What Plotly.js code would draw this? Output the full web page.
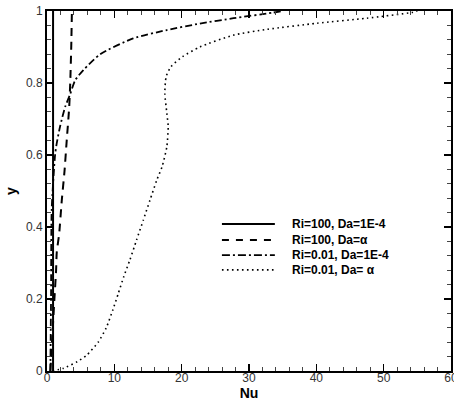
<!DOCTYPE html>
<html>
<head>
<meta charset="utf-8">
<script src="https://cdn.plot.ly/plotly-3.0.1.min.js"></script>
<style>html,body{margin:0;padding:0;background:#fff;}#chart{width:454px;height:401px;}</style>
</head>
<body>
<div id="chart"></div>
<script>
// Series names
const seriesNames = ["Ri=100, Da=1E-4", "Ri=100, Da=\u03b1", "Ri=0.01, Da=1E-4", "Ri=0.01, Da= \u03b1"];

// Ri=100, Da=1E-4 (solid)
const y1 = [0, 0.25, 0.5, 0.75, 1.0];
const nu1 = [0.9, 0.9, 0.9, 0.9, 0.9];

// Ri=100, Da=alpha (dashed)
const y2 = [0, 0.1, 0.2, 0.28, 0.33, 0.38, 0.475, 0.555, 0.633, 0.734, 0.8, 0.9, 1.0];
const nu2 = [0.5, 0.8, 1.1, 1.35, 1.45, 1.8, 2.2, 2.6, 2.9, 3.3, 3.45, 3.6, 3.7];

// Ri=0.01, Da=1E-4 (dash-dot)
const y3 = [0, 0.2, 0.45, 0.6, 0.633, 0.68, 0.734, 0.767, 0.808, 0.836, 0.88, 0.924, 0.947, 0.965, 0.98, 0.995, 1.0];
const nu3 = [0.5, 0.6, 0.7, 1.2, 1.45, 1.95, 2.7, 3.4, 4.2, 5.4, 7.9, 12.8, 17.8, 22.7, 27.7, 33.4, 35];

// Ri=0.01, Da=alpha (dotted)
const y4 = [0, 0.008, 0.026, 0.044, 0.08, 0.12, 0.171, 0.216, 0.262, 0.308, 0.364, 0.419, 0.475, 0.53, 0.568, 0.623, 0.679, 0.716, 0.771, 0.818, 0.845, 0.873, 0.9, 0.933, 0.949, 0.966, 0.98, 0.996, 1.0];
const nu4 = [0.8, 2.5, 4.5, 5.9, 7.6, 8.8, 9.8, 10.6, 11.4, 12.3, 13.3, 14.3, 15.3, 16.3, 17.1, 17.8, 18.0, 17.8, 17.5, 17.7, 18.4, 20.1, 22.7, 27.7, 32.7, 40.1, 47.5, 54.2, 55];

const xTickVals = [0, 10, 20, 30, 40, 50, 60];
const yTickVals = [0, 0.2, 0.4, 0.6, 0.8, 1];
const yTickText = ["0", "0.2", "0.4", "0.6", "0.8", "1"];

const lineStyles = [
  {color: '#000', width: 2, dash: 'solid'},
  {color: '#000', width: 2, dash: '8px,6px'},
  {color: '#000', width: 1.8, dash: '7px,3px,2px,3px'},
  {color: '#000', width: 1.6, dash: '1.6px,3.4px'}
];

const xs = [nu1, nu2, nu3, nu4];
const ys = [y1, y2, y3, y4];

const traces = xs.map((x, i) => ({
  x: x, y: ys[i], name: seriesNames[i], mode: 'lines',
  line: Object.assign({shape: 'spline', smoothing: 0.6}, lineStyles[i])
}));

const fontFam = 'Liberation Sans, Arial, sans-serif';

// manual legend (paper coordinates)
const legendRowsY = [0.408, 0.364, 0.322, 0.281];
const legendShapes = legendRowsY.map((yy, i) => ({
  type: 'line', xref: 'paper', yref: 'paper', x0: 0.433, x1: 0.564, y0: yy, y1: yy,
  line: {color: '#000', width: lineStyles[i].width, dash: i === 1 ? '7px,7px' : (i === 2 ? '8px,3px,2px,3px' : lineStyles[i].dash)}
}));
const legendAnnotations = legendRowsY.map((yy, i) => ({
  xref: 'paper', yref: 'paper', x: 0.601, y: yy, xanchor: 'left', yanchor: 'middle',
  text: '<b>' + seriesNames[i] + '</b>', showarrow: false,
  font: {family: fontFam, size: 12, color: '#000'}
}));

const axisCommon = {
  showgrid: false, zeroline: false, showline: true, linecolor: '#000', linewidth: 2,
  mirror: 'allticks', ticks: 'inside', ticklen: 7, tickwidth: 1.5, tickcolor: '#000',
  tickfont: {family: fontFam, size: 12, color: '#333'},
  ticklabeloverflow: 'allow'
};

const layout = {
  width: 454, height: 401,
  margin: {l: 47, r: 3, t: 11, b: 30},
  paper_bgcolor: '#fff', plot_bgcolor: '#fff',
  showlegend: false,
  hovermode: false,
  shapes: legendShapes,
  annotations: legendAnnotations,
  xaxis: Object.assign({}, axisCommon, {
    range: [0, 60], tickvals: xTickVals, ticktext: xTickVals.map(String),
    ticklabelstandoff: -5,
    minor: {ticks: 'inside', ticklen: 4, tickwidth: 1, tickcolor: '#444', dtick: 2, tick0: 0},
    title: {text: 'Nu', font: {family: fontFam, size: 14, color: '#000', weight: 'bold'}, standoff: 5}
  }),
  yaxis: Object.assign({}, axisCommon, {
    range: [0, 1], tickvals: yTickVals, ticktext: yTickText,
    minor: {ticks: 'inside', ticklen: 4, tickwidth: 1, tickcolor: '#444', dtick: 0.04, tick0: 0},
    title: {text: 'y', font: {family: fontFam, size: 14, color: '#000', weight: 'bold'}, standoff: 6}
  })
};

Plotly.newPlot('chart', traces, layout, {staticPlot: true, displayModeBar: false});
</script>
</body>
</html>
